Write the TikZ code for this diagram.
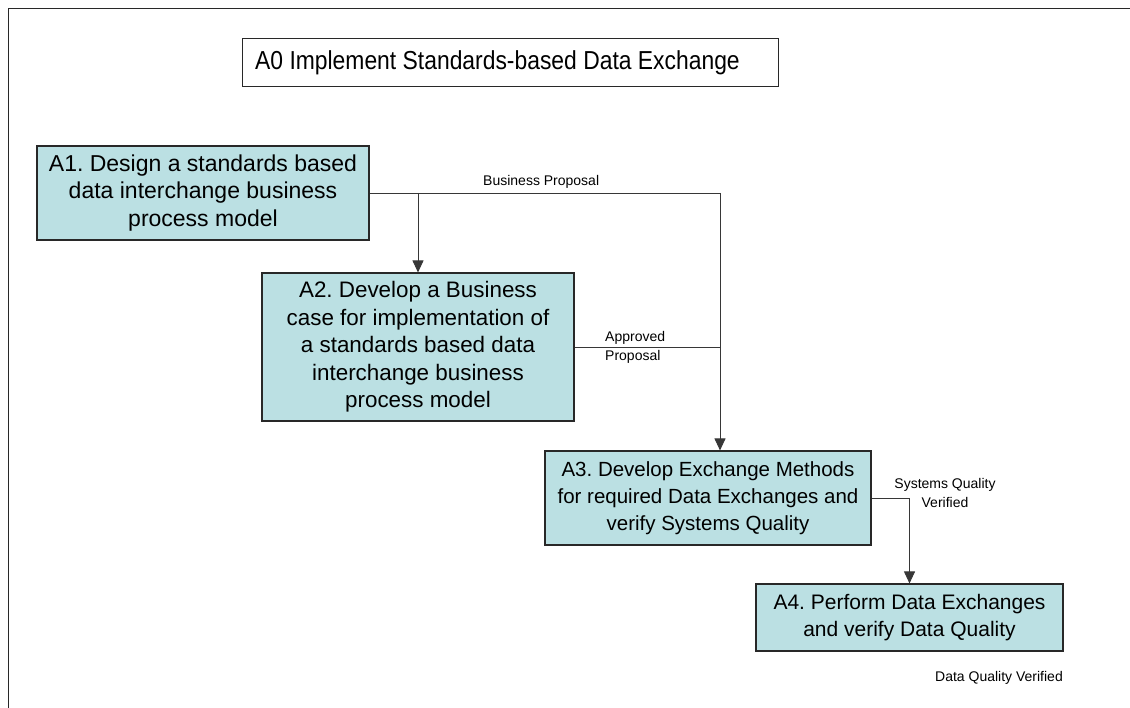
\documentclass[tikz,border=0pt]{standalone}
\usepackage{fontspec}
\setmainfont{Liberation Sans}
\usetikzlibrary{arrows.meta,calc}
\frenchspacing
\definecolor{boxfill}{RGB}{187,224,227}
\definecolor{edge}{RGB}{40,40,40}
\definecolor{wire}{RGB}{55,55,55}
\tikzset{
  procbox/.style={draw=edge,line width=1.1pt,fill=boxfill,align=center,inner sep=0pt},
  conn/.style={draw=wire,line width=0.9pt},
  arr/.style={conn,-{Triangle[length=12pt,width=11pt]}},
  lbl/.style={font=\fontsize{14}{19}\selectfont,inner sep=0pt}
}
\begin{document}
\begin{tikzpicture}[x=1pt,y=-1pt]
\useasboundingbox (0,0) rectangle (1130,708);
\draw[edge,line width=1pt] (8,708) -- (8,9) -- (1130,9);
\node[draw=edge,line width=1pt,minimum width=536pt,minimum height=48pt,inner sep=0pt] (A0) at (510,63) {};
\node[anchor=west,inner sep=0pt] (A0t) at (255,63) {\scalebox{0.88}[1]{\fontsize{26}{30}\selectfont A0 Implement Standards-based Data Exchange}};
\node[procbox,minimum width=332pt,minimum height=94pt,font=\fontsize{23}{27.5}\selectfont] (A1) at (203,193) {A1. Design a standards based\\data interchange business\\process model};
\node[procbox,minimum width=312pt,minimum height=148pt,font=\fontsize{22.4}{27.5}\selectfont] (A2) at (418,347) {A2. Develop a Business\\case for implementation of\\a standards based data\\interchange business\\process model};
\node[procbox,minimum width=326pt,minimum height=94pt,font=\fontsize{20.5}{27}\selectfont] (A3) at (708,498) {A3. Develop Exchange Methods\\for required Data Exchanges and\\verify Systems Quality};
\node[procbox,minimum width=307pt,minimum height=67pt,font=\fontsize{21}{27}\selectfont] (A4) at (909.5,617.5) {A4. Perform Data Exchanges\\and verify Data Quality};
\coordinate (j1) at (720,193);
\draw[conn] (A1.east) -- (j1);
\draw[arr] (j1) -- (A3.north -| j1);
\draw[arr] (A1.east -| A2.north) -- (A2.north);
\draw[conn] (A2.east) -- (A2.east -| j1);
\draw[arr] (A3.east) -- (A3.east -| A4.north) -- (A4.north);
\node[lbl,anchor=west] (lb1) at (483,182) {Business Proposal};
\node[lbl,anchor=west,align=left] (lb2) at (605,347) {Approved\\Proposal};
\node[lbl,align=center] (lb3) at (945,493) {Systems Quality\\Verified};
\node[lbl,anchor=east] (lb4) at (1063,678) {Data Quality Verified};
\end{tikzpicture}
\end{document}
